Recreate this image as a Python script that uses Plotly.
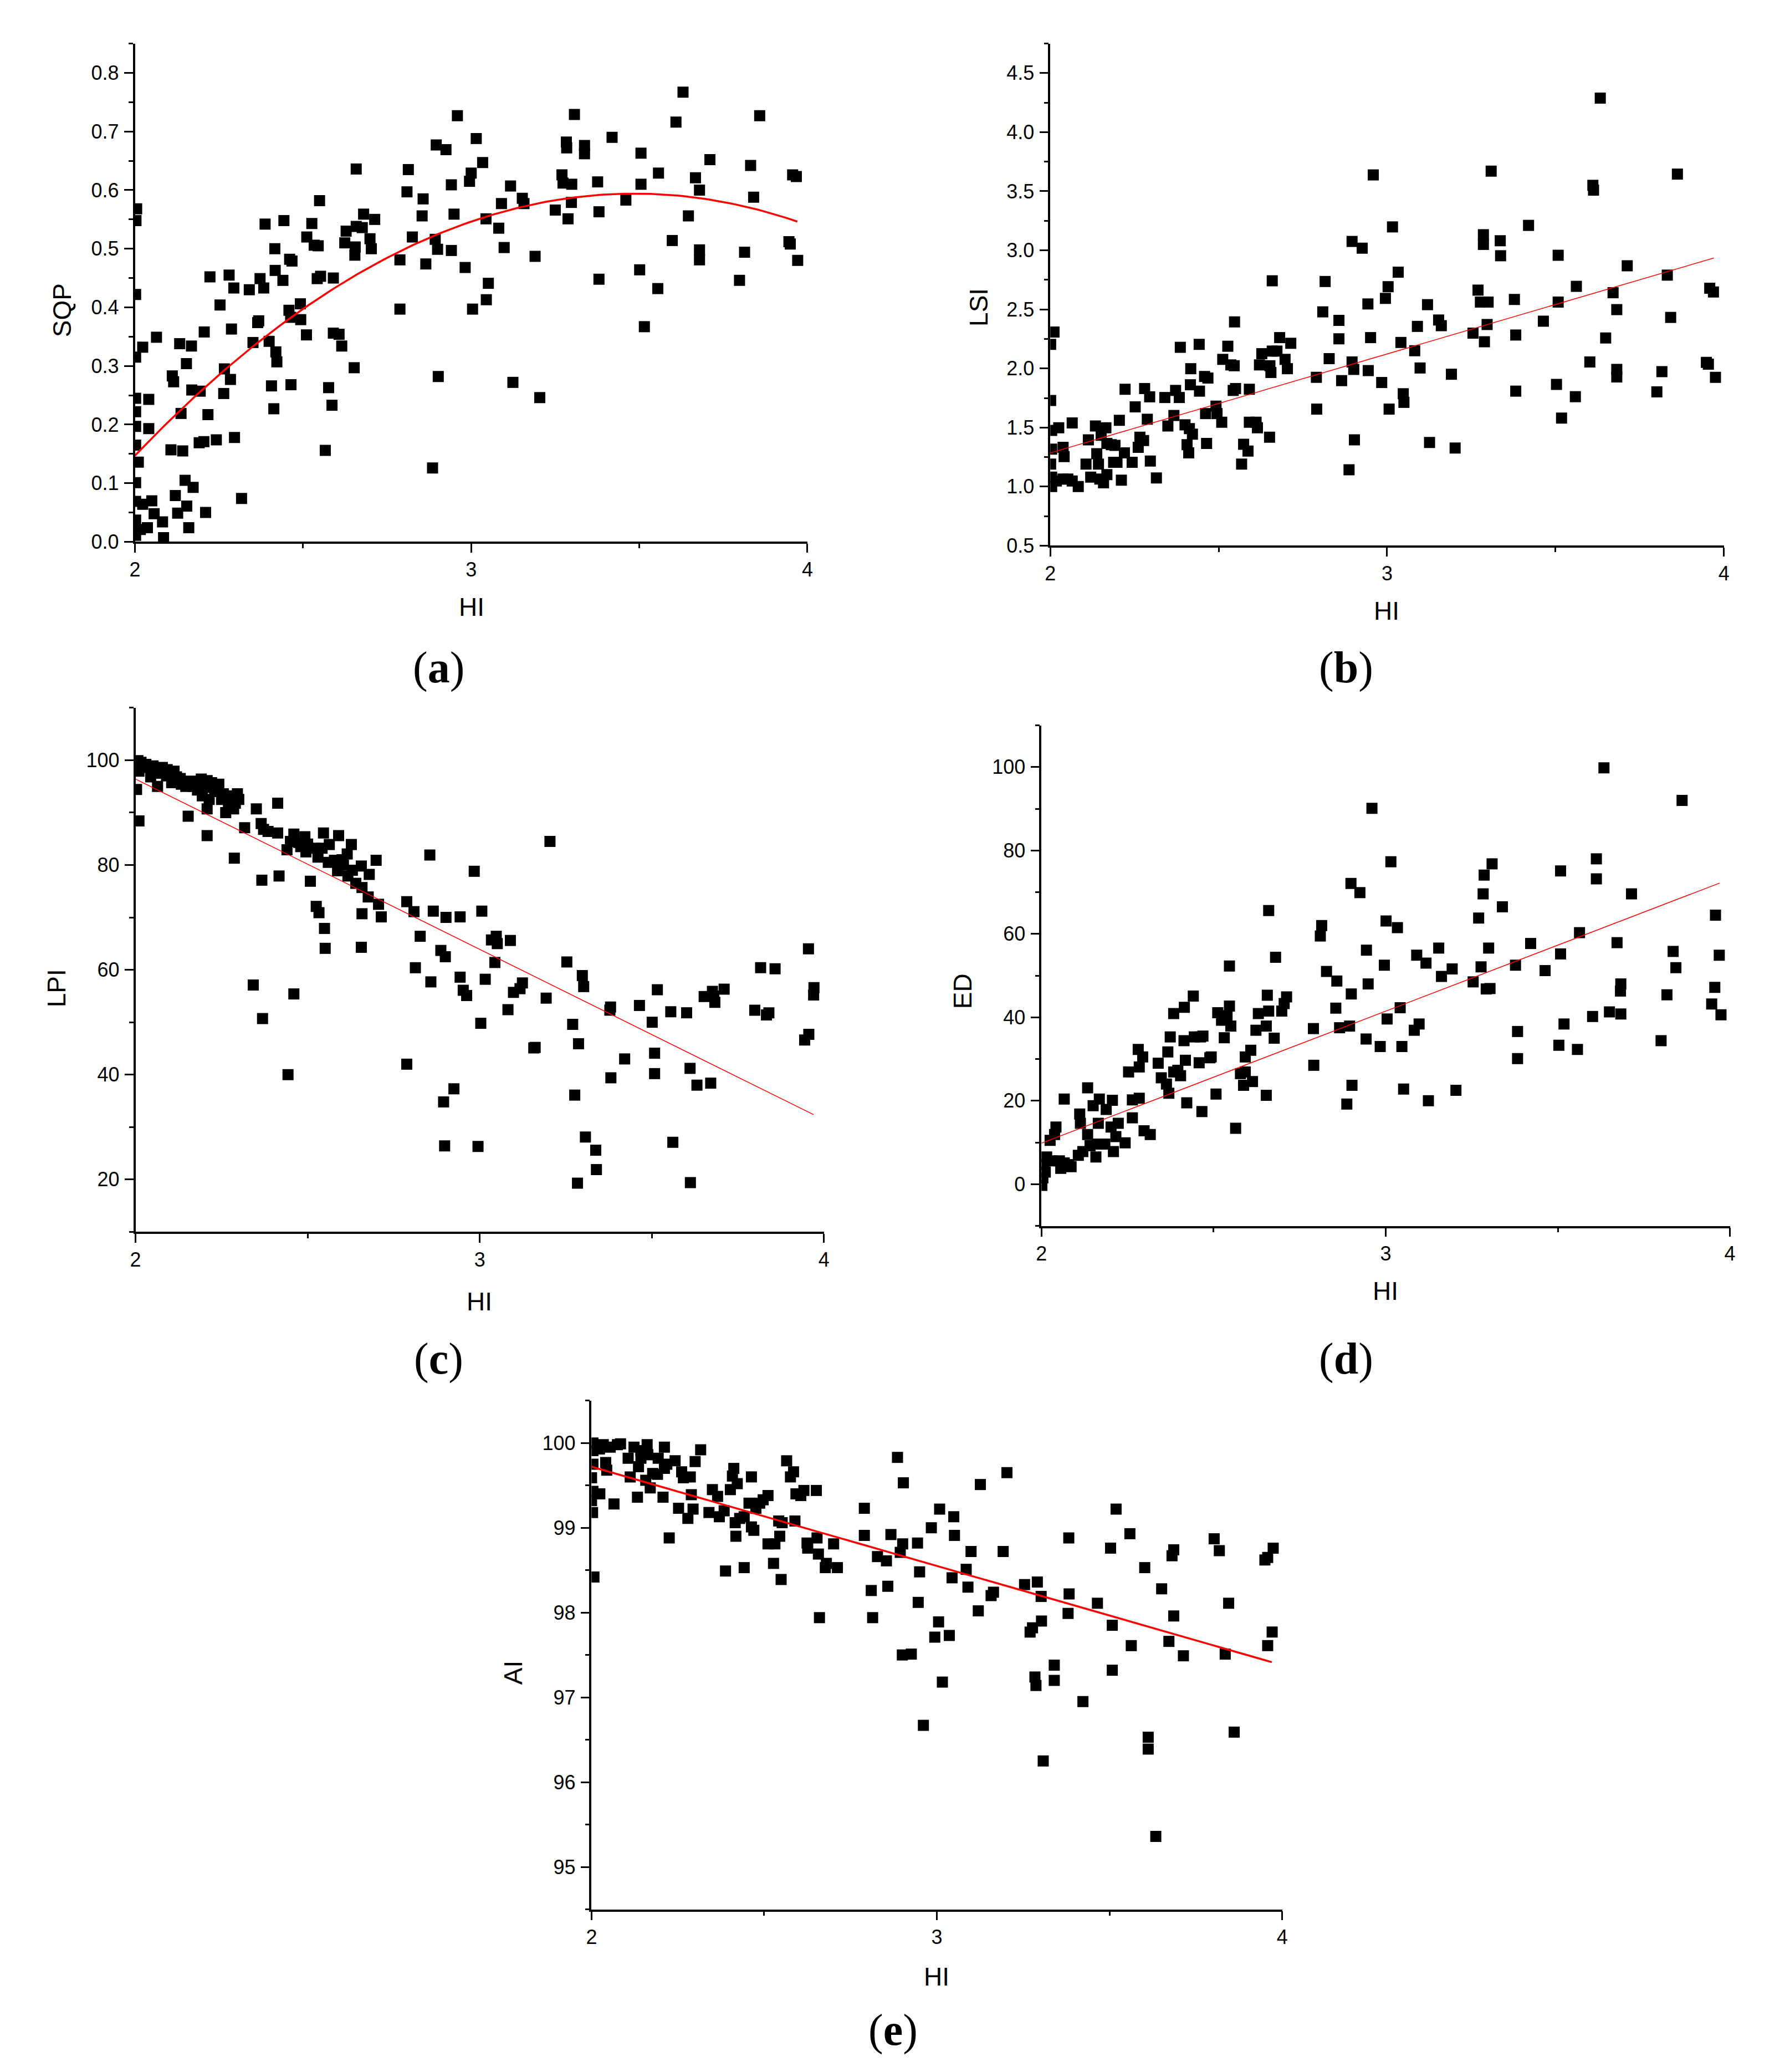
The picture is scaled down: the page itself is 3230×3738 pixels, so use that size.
import numpy as np
import plotly.graph_objects as go

W, H = 3230, 3738
SANS = "Arial, 'Liberation Sans', sans-serif"
SERIF = "'Times New Roman', 'Liberation Serif', serif"

# ---- data ---------------------------------------------------------------

HI_TICKS = [2, 3, 4]
SQP_TICKS = [0.0, 0.1, 0.2, 0.3, 0.4, 0.5, 0.6, 0.7, 0.8]
LSI_TICKS = [0.5, 1.0, 1.5, 2.0, 2.5, 3.0, 3.5, 4.0, 4.5]
LPI_TICKS = [20, 40, 60, 80, 100]
ED_TICKS = [0, 20, 40, 60, 80, 100]
AI_TICKS = [95, 96, 97, 98, 99, 100]

# (a) SQP vs HI
HI_A = [2.005, 2.003, 2.002, 2.002, 2.002, 2.002, 2.002, 2.002, 2.010, 2.002,
        2.002, 2.002, 2.002, 2.023, 2.064, 2.041, 2.041, 2.050, 2.023, 2.057,
        2.082, 2.037, 2.085, 2.016, 2.107, 2.111, 2.115, 2.120, 2.127, 2.133,
        2.137, 2.142, 2.149, 2.153, 2.154, 2.160, 2.168, 2.169, 2.173, 2.191,
        2.194, 2.206, 2.205, 2.210, 2.217, 2.223, 2.242, 2.253, 2.264, 2.266,
        2.280, 2.284, 2.287, 2.294, 2.296, 2.317, 2.340, 2.351, 2.365, 2.368,
        2.372, 2.383, 2.387, 2.399, 2.406, 2.413, 2.416, 2.417, 2.419, 2.422,
        2.440, 2.443, 2.458, 2.460, 2.464, 2.467, 2.463, 2.492, 2.493, 2.510,
        2.511, 2.526, 2.533, 2.542, 2.545, 2.549, 2.552, 2.566, 2.576, 2.586,
        2.590, 2.590, 2.607, 2.615, 2.624, 2.628, 2.652, 2.654, 2.655, 2.658,
        2.658, 2.676, 2.680, 2.699, 2.703, 2.713, 2.788, 2.788, 2.809, 2.813,
        2.825, 2.854, 2.857, 2.865, 2.885, 2.893, 2.896, 2.900, 2.902, 2.925,
        2.941, 2.941, 2.949, 2.959, 2.982, 2.995, 3.000, 3.004, 3.015, 3.034,
        3.044, 3.045, 3.051, 3.082, 3.090, 3.098, 3.117, 3.124, 3.152, 3.157,
        3.190, 3.204, 3.250, 3.270, 3.273, 3.283, 3.284, 3.288, 3.299, 3.298,
        3.307, 3.337, 3.337, 3.376, 3.380, 3.380, 3.419, 3.460, 3.501, 3.505,
        3.505, 3.515, 3.555, 3.557, 3.598, 3.609, 3.630, 3.646, 3.667, 3.679,
        3.679, 3.679, 3.710, 3.798, 3.813, 3.831, 3.840, 3.858, 3.945, 3.949,
        3.956, 3.967, 3.971]
SQP = [0.568, 0.548, 0.422, 0.315, 0.245, 0.222, 0.197, 0.165, 0.136, 0.101,
       0.069, 0.037, 0.011, 0.332, 0.349, 0.243, 0.193, 0.070, 0.064, 0.048,
       0.034, 0.024, 0.007, 0.021, 0.157, 0.283, 0.273, 0.079, 0.049, 0.338,
       0.219, 0.155, 0.105, 0.304, 0.061, 0.024, 0.334, 0.259, 0.093, 0.169,
       0.257, 0.358, 0.171, 0.050, 0.217, 0.452, 0.174, 0.404, 0.253, 0.295,
       0.455, 0.277, 0.363, 0.433, 0.178, 0.074, 0.430, 0.340, 0.374, 0.377,
       0.449, 0.433, 0.542, 0.342, 0.266, 0.227, 0.500, 0.463, 0.324, 0.307,
       0.446, 0.548, 0.395, 0.482, 0.268, 0.479, 0.383, 0.406, 0.379, 0.353,
       0.520, 0.543, 0.506, 0.449, 0.505, 0.582, 0.453, 0.156, 0.263, 0.233,
       0.450, 0.356, 0.354, 0.334, 0.510, 0.530, 0.297, 0.489, 0.503, 0.636,
       0.538, 0.536, 0.559, 0.517, 0.500, 0.550, 0.481, 0.397, 0.597, 0.635,
       0.520, 0.556, 0.585, 0.474, 0.126, 0.516, 0.677, 0.499, 0.282, 0.669,
       0.609, 0.497, 0.559, 0.727, 0.468, 0.615, 0.629, 0.397, 0.688, 0.647,
       0.551, 0.413, 0.441, 0.535, 0.577, 0.502, 0.607, 0.272, 0.586, 0.577,
       0.487, 0.246, 0.566, 0.626, 0.612, 0.682, 0.672, 0.551, 0.610, 0.579,
       0.729, 0.676, 0.662, 0.614, 0.563, 0.448, 0.690, 0.583, 0.464, 0.663,
       0.610, 0.367, 0.432, 0.629, 0.514, 0.716, 0.767, 0.556, 0.621, 0.600,
       0.498, 0.481, 0.652, 0.446, 0.494, 0.642, 0.588, 0.727, 0.512, 0.508,
       0.626, 0.623, 0.480]

# (b) LSI vs HI
HI_B = [2.011, 2.001, 2.001, 2.004, 2.025, 2.004, 2.001, 2.004, 2.004, 2.038,
        2.041, 2.018, 2.038, 2.052, 2.065, 2.065, 2.083, 2.106, 2.113, 2.120,
        2.134, 2.138, 2.143, 2.147, 2.151, 2.158, 2.165, 2.168, 2.168, 2.181,
        2.192, 2.188, 2.198, 2.205, 2.211, 2.220, 2.222, 2.243, 2.252, 2.261,
        2.266, 2.277, 2.280, 2.288, 2.295, 2.297, 2.315, 2.340, 2.349, 2.367,
        2.372, 2.383, 2.386, 2.400, 2.406, 2.411, 2.413, 2.416, 2.417, 2.422,
        2.442, 2.443, 2.458, 2.461, 2.464, 2.468, 2.492, 2.495, 2.509, 2.512,
        2.527, 2.536, 2.546, 2.543, 2.550, 2.547, 2.568, 2.574, 2.587, 2.591,
        2.591, 2.611, 2.615, 2.621, 2.628, 2.651, 2.655, 2.659, 2.652, 2.659,
        2.673, 2.681, 2.697, 2.704, 2.714, 2.790, 2.791, 2.809, 2.816, 2.828,
        2.857, 2.857, 2.865, 2.887, 2.896, 2.896, 2.901, 2.903, 2.926, 2.943,
        2.944, 2.951, 2.959, 2.984, 2.995, 3.003, 3.006, 3.016, 3.033, 3.041,
        3.048, 3.050, 3.082, 3.090, 3.098, 3.120, 3.126, 3.153, 3.161, 3.191,
        3.202, 3.255, 3.270, 3.277, 3.286, 3.286, 3.289, 3.297, 3.300, 3.309,
        3.336, 3.337, 3.378, 3.382, 3.382, 3.420, 3.464, 3.503, 3.508, 3.508,
        3.518, 3.559, 3.562, 3.602, 3.611, 3.613, 3.633, 3.649, 3.671, 3.682,
        3.682, 3.682, 3.713, 3.801, 3.816, 3.832, 3.842, 3.862, 3.948, 3.954,
        3.958, 3.969, 3.975]
LSI = [2.308, 2.204, 1.729, 1.475, 1.498, 1.317, 1.190, 1.080, 1.000, 1.333,
       1.254, 1.048, 1.064, 1.064, 1.048, 1.539, 1.000, 1.190, 1.396, 1.080,
       1.513, 1.279, 1.190, 1.064, 1.434, 1.032, 1.498, 1.365, 1.102, 1.355,
       1.349, 1.206, 1.206, 1.561, 1.054, 1.285, 1.824, 1.206, 1.675, 1.333,
       1.418, 1.390, 1.830, 1.570, 1.760, 1.216, 1.073, 1.754, 1.513, 1.602,
       1.814, 1.754, 2.179, 1.523, 1.355, 1.285, 1.491, 1.862, 1.998, 1.444,
       2.204, 1.808, 1.932, 1.618, 1.365, 1.919, 1.681, 1.618, 1.545, 2.077,
       2.188, 2.030, 2.023, 1.814, 1.830, 2.394, 1.190, 1.358, 1.301, 1.824,
       1.545, 1.545, 1.498, 2.030, 2.125, 1.418, 1.966, 2.742, 2.023, 2.147,
       2.147, 2.261, 2.077, 1.998, 2.213, 1.925, 1.656, 2.479, 2.736, 2.083,
       2.407, 2.251, 1.897, 1.143, 3.075, 2.055, 1.992, 1.396, 3.018, 2.546,
       1.982, 2.261, 3.638, 1.881, 2.593, 2.692, 1.656, 3.198, 2.815, 2.220,
       1.786, 1.713, 2.150, 2.356, 2.004, 2.540, 1.374, 2.410, 2.362, 1.951,
       1.327, 2.299, 2.663, 2.562, 3.132, 3.050, 2.226, 2.372, 2.562, 3.670,
       3.081, 2.954, 2.584, 2.283, 1.808, 3.211, 2.400, 1.865, 2.958, 2.562,
       1.580, 1.761, 2.695, 2.055, 3.550, 3.509, 4.288, 2.258, 2.641, 2.498,
       1.992, 1.928, 2.869, 1.802, 1.973, 2.790, 2.432, 3.645, 2.052, 2.036,
       2.679, 2.647, 1.925]

# (c) LPI vs HI
HI_C = [2.007, 2.016, 2.023, 2.010, 2.037, 2.051, 2.044, 2.064, 2.003, 2.010,
        2.078, 2.092, 2.112, 2.119, 2.105, 2.133, 2.146, 2.153, 2.167, 2.180,
        2.191, 2.194, 2.208, 2.214, 2.221, 2.208, 2.208, 2.242, 2.255, 2.262,
        2.276, 2.285, 2.290, 2.296, 2.287, 2.317, 2.351, 2.365, 2.372, 2.385,
        2.413, 2.413, 2.367, 2.417, 2.342, 2.369, 2.440, 2.460, 2.460, 2.474,
        2.492, 2.495, 2.508, 2.522, 2.525, 2.533, 2.546, 2.549, 2.551, 2.542,
        2.563, 2.578, 2.590, 2.587, 2.604, 2.615, 2.627, 2.617, 2.656, 2.658,
        2.658, 2.656, 2.679, 2.676, 2.699, 2.706, 2.714, 2.443, 2.788, 2.788,
        2.809, 2.827, 2.813, 2.855, 2.865, 2.858, 2.887, 2.900, 2.902, 2.895,
        2.898, 2.925, 2.943, 2.943, 2.952, 2.962, 2.984, 3.003, 2.995, 3.006,
        3.016, 3.034, 3.048, 3.051, 3.044, 3.089, 3.082, 3.098, 3.117, 3.124,
        3.157, 3.161, 3.193, 3.204, 3.253, 3.270, 3.276, 3.284, 3.287, 3.298,
        3.302, 3.307, 3.337, 3.339, 3.380, 3.378, 3.381, 3.421, 3.464, 3.501,
        3.508, 3.508, 3.516, 3.555, 3.561, 3.601, 3.611, 3.612, 3.631, 3.652,
        3.671, 3.676, 3.683, 3.680, 3.710, 3.799, 3.816, 3.833, 3.840, 3.858,
        3.944, 3.956, 3.955, 3.971, 3.970,
        2.030, 2.060, 2.090, 2.130, 2.160, 2.200, 2.230, 2.250, 2.270, 2.300,
        2.450, 2.480, 2.500, 2.530, 2.560, 2.600, 2.630, 2.640]
LPI = [99.9, 99.6, 98.9, 97.9, 98.6, 98.9, 96.8, 95.0, 94.4, 88.4,
       98.6, 98.2, 97.9, 96.8, 95.7, 95.4, 95.0, 89.3, 95.0, 94.3,
       96.4, 93.2, 96.1, 92.5, 95.7, 90.7, 85.6, 95.4, 93.6, 90.0,
       93.2, 90.7, 91.8, 93.6, 81.3, 87.1, 90.7, 87.9, 86.8, 86.4,
       91.8, 86.1, 77.1, 77.9, 57.1, 50.7, 82.9, 85.9, 55.4, 84.3,
       85.4, 82.5, 76.9, 83.2, 72.1, 70.9, 86.1, 67.9, 64.1, 83.2,
       83.9, 80.9, 85.6, 78.9, 80.0, 82.1, 83.9, 77.9, 79.8, 75.7,
       70.7, 64.3, 78.2, 73.9, 80.9, 72.5, 70.1, 40.0, 73.0, 42.0,
       71.1, 66.4, 60.4, 81.9, 71.2, 57.7, 63.7, 62.5, 70.0, 34.8,
       26.4, 37.3, 70.1, 58.6, 56.1, 55.1, 78.8, 49.8, 26.3, 71.2,
       58.2, 65.7, 66.4, 65.0, 61.4, 65.6, 52.4, 55.7, 56.4, 57.5,
       45.1, 45.2, 54.6, 84.5, 61.5, 49.6, 36.1, 19.3, 45.9, 58.9,
       56.8, 28.1, 25.6, 21.9, 52.9, 52.3, 39.4, 43.0, 53.2, 50.0,
       44.1, 40.2, 56.2, 52.0, 27.1, 51.8, 41.2, 19.4, 38.0, 54.9,
       38.4, 55.9, 53.8, 55.0, 56.3, 52.3, 60.4, 51.4, 51.8, 60.2,
       46.6, 47.7, 64.0, 56.6, 55.2,
       99.2, 97.5, 97.0, 96.5, 96.0, 94.8, 94.0, 92.5, 91.5, 92.5,
       84.5, 83.5, 84.0, 81.5, 80.5, 81.0, 79.0, 76.5]

# (d) ED vs HI
HI_D = [2.001, 2.004, 2.011, 2.007, 2.015, 2.025, 2.038, 2.042, 2.031, 2.052,
        2.056, 2.066, 2.066, 2.079, 2.086, 2.107, 2.111, 2.113, 2.120, 2.134,
        2.134, 2.141, 2.150, 2.158, 2.161, 2.165, 2.168, 2.184, 2.188, 2.202,
        2.206, 2.209, 2.216, 2.223, 2.243, 2.253, 2.264, 2.264, 2.284, 2.284,
        2.281, 2.294, 2.298, 2.316, 2.339, 2.348, 2.363, 2.367, 2.370, 2.374,
        2.384, 2.384, 2.396, 2.404, 2.414, 2.415, 2.418, 2.422, 2.441, 2.444,
        2.458, 2.462, 2.466, 2.469, 2.489, 2.493, 2.507, 2.512, 2.523, 2.531,
        2.539, 2.546, 2.546, 2.550, 2.564, 2.578, 2.587, 2.592, 2.592, 2.608,
        2.613, 2.623, 2.630, 2.653, 2.653, 2.656, 2.660, 2.660, 2.676, 2.680,
        2.698, 2.705, 2.712, 2.790, 2.791, 2.810, 2.814, 2.828, 2.858, 2.855,
        2.866, 2.887, 2.895, 2.899, 2.902, 2.900, 2.925, 2.943, 2.944, 2.949,
        2.960, 2.984, 2.996, 3.001, 3.004, 3.015, 3.034, 3.042, 3.047, 3.052,
        3.083, 3.090, 3.097, 3.117, 3.124, 3.154, 3.162, 3.193, 3.204, 3.254,
        3.270, 3.277, 3.283, 3.286, 3.292, 3.299, 3.303, 3.309, 3.339, 3.377,
        3.383, 3.383, 3.421, 3.463, 3.503, 3.508, 3.508, 3.518, 3.557, 3.563,
        3.601, 3.612, 3.612, 3.634, 3.650, 3.672, 3.682, 3.683, 3.683, 3.714,
        3.800, 3.817, 3.835, 3.843, 3.861, 3.947, 3.956, 3.958, 3.969, 3.974]
ED = [-0.3, 1.5, 2.9, 4.7, 6.5, 10.5, 11.9, 13.7, 5.6, 5.6,
      3.8, 5.1, 20.4, 4.7, 4.2, 6.9, 16.8, 14.6, 7.8, 11.9,
      23.1, 9.2, 18.8, 6.5, 9.6, 14.6, 20.4, 9.6, 17.9, 13.7,
      20.1, 7.8, 11.4, 14.6, 9.9, 26.9, 20.2, 15.9, 20.6, 28.1,
      32.3, 30.5, 12.8, 11.9, 29.0, 25.5, 24.0, 31.7, 21.8, 35.3,
      40.9, 26.9, 27.3, 26.0, 34.4, 42.4, 29.7, 19.5, 45.1, 35.3,
      29.1, 35.3, 17.4, 35.5, 30.3, 30.5, 21.6, 41.1, 39.3, 35.1,
      40.4, 42.7, 52.3, 37.9, 13.4, 26.5, 23.7, 30.5, 26.9, 32.1,
      24.6, 36.9, 40.9, 21.3, 37.9, 45.3, 41.5, 65.6, 35.0, 54.4,
      41.5, 43.3, 44.9, 37.3, 28.5, 59.5, 62.0, 51.0, 48.7, 42.2,
      37.5, 19.2, 37.9, 72.1, 23.7, 45.6, 69.9, 34.8, 56.1, 48.0,
      90.1, 33.0, 52.5, 63.1, 39.6, 77.3, 61.5, 42.3, 33.0, 22.8,
      36.9, 54.9, 38.4, 53.0, 20.0, 56.6, 49.8, 51.6, 22.5, 48.5,
      63.8, 52.1, 69.6, 74.1, 46.8, 56.6, 46.9, 76.8, 66.5, 52.5,
      36.6, 30.1, 57.7, 51.2, 33.3, 75.1, 55.2, 38.4, 32.3, 60.3,
      40.2, 78.0, 73.2, 99.8, 41.3, 57.9, 46.3, 48.0, 40.8, 69.6,
      34.4, 45.4, 55.8, 51.9, 92.0, 43.2, 47.2, 64.5, 54.9, 40.6]

# (e) AI vs HI
HI_E = [2.004, 2.004, 2.004, 2.000, 2.004, 2.000, 2.003, 2.007, 2.023, 2.024,
        2.034, 2.041, 2.044, 2.054, 2.065, 2.075, 2.084, 2.106, 2.112, 2.123,
        2.133, 2.136, 2.143, 2.143, 2.157, 2.161, 2.163, 2.170, 2.177, 2.191,
        2.193, 2.207, 2.211, 2.211, 2.225, 2.218, 2.242, 2.252, 2.261, 2.266,
        2.279, 2.286, 2.289, 2.294, 2.300, 2.316, 2.340, 2.350, 2.365, 2.370,
        2.384, 2.388, 2.402, 2.408, 2.412, 2.416, 2.418, 2.422, 2.429, 2.442,
        2.442, 2.456, 2.463, 2.463, 2.470, 2.476, 2.487, 2.497, 2.511, 2.511,
        2.527, 2.531, 2.542, 2.545, 2.549, 2.552, 2.565, 2.576, 2.585, 2.589,
        2.592, 2.606, 2.615, 2.624, 2.626, 2.651, 2.653, 2.657, 2.660, 2.677,
        2.680, 2.701, 2.712, 2.790, 2.790, 2.810, 2.814, 2.828, 2.854, 2.858,
        2.867, 2.886, 2.894, 2.900, 2.901, 2.903, 2.926, 2.944, 2.946, 2.950,
        2.961, 2.984, 2.994, 3.005, 3.008, 3.016, 3.036, 3.044, 3.049, 3.051,
        3.085, 3.090, 3.099, 3.120, 3.126, 3.157, 3.164, 3.192, 3.203, 3.254,
        3.270, 3.277, 3.284, 3.287, 3.291, 3.302, 3.303, 3.308, 3.340, 3.340,
        3.382, 3.380, 3.383, 3.423, 3.465, 3.503, 3.508, 3.508, 3.519, 3.559,
        3.563, 3.602, 3.612, 3.612, 3.634, 3.651, 3.672, 3.681, 3.686, 3.686,
        3.714, 3.803, 3.818, 3.835, 3.845, 3.861, 3.950, 3.958, 3.958, 3.971,
        3.974]
AI = [100.0, 99.91, 99.75, 99.59, 99.43, 99.32, 99.18, 98.42, 99.93, 99.40,
      99.98, 99.77, 99.68, 99.95, 99.28, 99.98, 99.99, 99.82, 99.60, 99.95,
      99.36, 99.72, 99.82, 99.91, 99.56, 99.98, 99.86, 99.47, 99.64, 99.63,
      99.82, 99.36, 99.95, 99.70, 98.88, 99.75, 99.79, 99.23, 99.66, 99.59,
      99.11, 99.60, 99.39, 99.22, 99.78, 99.92, 99.18, 99.45, 99.37, 99.13,
      99.20, 98.49, 99.45, 99.61, 99.70, 99.06, 98.90, 99.52, 99.11, 98.53,
      99.13, 99.29, 99.60, 99.01, 98.97, 99.23, 99.29, 99.33, 99.38, 98.81,
      98.58, 98.81, 99.08, 98.90, 98.39, 99.06, 99.79, 99.60, 99.66, 99.08,
      99.40, 99.38, 99.44, 98.82, 98.76, 99.44, 98.88, 98.69, 97.94, 98.53,
      98.58, 98.81, 98.53, 99.23, 98.91, 98.26, 97.94, 98.66, 98.61, 98.31,
      98.92, 99.83, 98.71, 97.50, 98.81, 99.53, 97.51, 98.82, 98.12, 98.48,
      96.67, 99.00, 97.71, 97.89, 99.22, 97.18, 97.73, 98.41, 99.13, 98.91,
      98.51, 98.30, 98.72, 98.02, 99.51, 98.20, 98.24, 98.72, 99.65, 98.33,
      97.77, 97.82, 97.24, 97.14, 98.36, 98.19, 97.90, 96.25, 97.38, 97.20,
      98.88, 97.99, 98.22, 96.95, 98.11, 98.76, 97.85, 97.32, 99.22, 98.93,
      97.61, 98.53, 96.53, 96.39, 95.36, 98.28, 97.66, 98.67, 98.74, 97.96,
      97.49, 98.87, 98.73, 97.51, 98.11, 96.59, 98.62, 98.65, 97.61, 97.77,
      98.76]

# fitted curves as drawn (polynomial coefficients, highest power first)
FIT_SQP = [-0.2027, 1.4128, -1.8678]
FIT_LSI = [0.8375, -0.390]
FIT_LPI = [-32.5, 161.4]
FIT_ED = [31.66, -53.5]
FIT_AI = [-1.170, 102.06]
FIT_SPAN = [2.0, 3.97]

# ---- layout (page pixel boxes: left, right, top, bottom) ----------------

PANELS = [
    dict(label="a", x=HI_A, y=SQP, fit=FIT_SQP, fitw=3.5, title="SQP",
         ticks=SQP_TICKS, fmt="{:.1f}", yrange=[0, 0.85], minor=0.05,
         box=(235, 1456, 79, 983), ytitle=(102, 563), xtitle=(846, 1101),
         tag=(786, 1211)),
    dict(label="b", x=HI_B, y=LSI, fit=FIT_LSI, fitw=1.5, title="LSI",
         ticks=LSI_TICKS, fmt="{:.1f}", yrange=[0.5, 4.75], minor=0.25,
         box=(1897, 3120, 79, 990), ytitle=(1767, 558), xtitle=(2508, 1108),
         tag=(2434, 1211)),
    dict(label="c", x=HI_C, y=LPI, fit=FIT_LPI, fitw=1.5, title="LPI",
         ticks=LPI_TICKS, fmt="{:d}", yrange=[10, 110], minor=10,
         box=(236, 1486, 1284, 2235), ytitle=(93, 1793), xtitle=(860, 2361),
         tag=(786, 2465)),
    dict(label="d", x=HI_D, y=ED, fit=FIT_ED, fitw=1.5, title="ED",
         ticks=ED_TICKS, fmt="{:d}", yrange=[-10, 110], minor=10,
         box=(1881, 3131, 1316, 2224), ytitle=(1738, 1798), xtitle=(2506, 2342),
         tag=(2434, 2465)),
    dict(label="e", x=HI_E, y=AI, fit=FIT_AI, fitw=3.5, title="AI",
         ticks=AI_TICKS, fmt="{:d}", yrange=[94.5, 100.5], minor=0.5,
         box=(1064, 2318, 2541, 3464), ytitle=(922, 3035), xtitle=(1690, 3586),
         tag=(1611, 3683)),
]

TICK_FONT = dict(family=SANS, size=36, color="black")
TITLE_FONT = dict(family=SANS, size=46, color="black")


def px_x(v):
    return v / W


def px_y(v):
    return 1 - v / H


def axis_style(tickvals, ticktext, rng, minor_dtick, minor_tick0):
    return dict(
        range=rng,
        tickmode="array",
        tickvals=tickvals,
        ticktext=ticktext,
        ticks="outside",
        ticklen=16,
        tickwidth=3,
        tickcolor="black",
        tickfont=TICK_FONT,
        ticklabelstandoff=2,
        minor=dict(ticks="outside", ticklen=8, tickwidth=3, tickcolor="black",
                   dtick=minor_dtick, tick0=minor_tick0, showgrid=False),
        showline=True,
        linewidth=3.5,
        linecolor="black",
        showgrid=False,
        zeroline=False,
        fixedrange=True,
    )


fig = go.Figure()
annotations = []

for i, p in enumerate(PANELS, start=1):
    sfx = "" if i == 1 else str(i)
    left, right, top, bottom = p["box"]

    fig.add_trace(go.Scatter(
        x=p["x"], y=p["y"], mode="markers",
        marker=dict(symbol="square", size=20, color="black", line=dict(width=0)),
        xaxis="x" + sfx, yaxis="y" + sfx, showlegend=False,
    ))
    fx = np.linspace(FIT_SPAN[0], FIT_SPAN[1], 150)
    fig.add_trace(go.Scatter(
        x=fx, y=np.polyval(p["fit"], fx), mode="lines",
        line=dict(color="#ff0000", width=p["fitw"]),
        xaxis="x" + sfx, yaxis="y" + sfx, showlegend=False,
    ))

    xa = axis_style(HI_TICKS, [str(v) for v in HI_TICKS], [2, 4], 0.5, 2)
    xa.update(domain=[px_x(left), px_x(right)], anchor="y" + sfx, ticklabelstandoff=0)
    ya = axis_style(p["ticks"], [p["fmt"].format(v) for v in p["ticks"]],
                    p["yrange"], p["minor"], p["ticks"][0])
    ya.update(domain=[px_y(bottom), px_y(top)], anchor="x" + sfx)
    fig.update_layout(**{"xaxis" + sfx: xa, "yaxis" + sfx: ya})

    annotations.append(dict(
        text=p["title"], x=px_x(p["ytitle"][0]), y=px_y(p["ytitle"][1]),
        textangle=-90, font=TITLE_FONT))
    annotations.append(dict(
        text="HI", x=px_x(p["xtitle"][0]), y=px_y(p["xtitle"][1]), font=TITLE_FONT))
    annotations.append(dict(
        text="(<b>%s</b>)" % p["label"], x=px_x(p["tag"][0]), y=px_y(p["tag"][1]),
        font=dict(family=SERIF, size=80, color="black")))

for a in annotations:
    a.update(xref="paper", yref="paper", showarrow=False,
             xanchor="center", yanchor="middle")

fig.update_layout(
    width=W,
    height=H,
    margin=dict(l=0, r=0, t=0, b=0),
    paper_bgcolor="white",
    plot_bgcolor="white",
    annotations=annotations,
    showlegend=False,
)

# drop the default page margin so the figure sits flush in the window
fig.write_html(
    "out.html",
    config={"displayModeBar": False},
    post_script="document.body.style.margin='0px';",
)
